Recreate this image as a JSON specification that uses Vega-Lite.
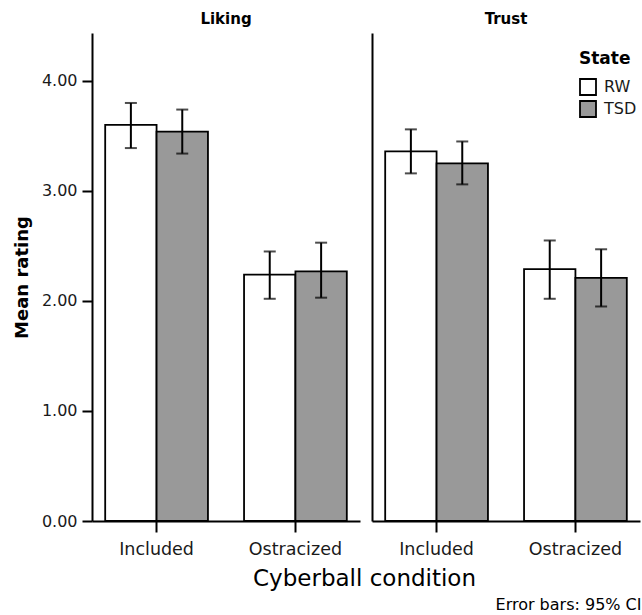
{
  "$schema": "https://vega.github.io/schema/vega-lite/v6.json",
  "padding": {"left": 13, "top": 12, "right": 0, "bottom": 0},
  "bounds": "flush",
  "config": {
    "font": "DejaVu Sans",
    "view": {"stroke": null},
    "concat": {"spacing": 12},
    "axis": {"domainColor": "black", "domainWidth": 2, "tickColor": "black", "tickWidth": 2, "labelColor": "#1a1a1a", "titleColor": "black", "grid": false},
    "title": {"color": "black"}
  },
  "datasets": {
    "d": [
      {"measure": "Liking", "condition": "Included", "state": "RW", "mean": 3.60, "lo": 3.39, "hi": 3.80},
      {"measure": "Liking", "condition": "Included", "state": "TSD", "mean": 3.54, "lo": 3.34, "hi": 3.74},
      {"measure": "Liking", "condition": "Ostracized", "state": "RW", "mean": 2.24, "lo": 2.02, "hi": 2.45},
      {"measure": "Liking", "condition": "Ostracized", "state": "TSD", "mean": 2.27, "lo": 2.03, "hi": 2.53},
      {"measure": "Trust", "condition": "Included", "state": "RW", "mean": 3.36, "lo": 3.16, "hi": 3.56},
      {"measure": "Trust", "condition": "Included", "state": "TSD", "mean": 3.25, "lo": 3.06, "hi": 3.45},
      {"measure": "Trust", "condition": "Ostracized", "state": "RW", "mean": 2.29, "lo": 2.02, "hi": 2.55},
      {"measure": "Trust", "condition": "Ostracized", "state": "TSD", "mean": 2.21, "lo": 1.95, "hi": 2.47}
    ]
  },
  "resolve": {"scale": {"fill": "independent"}, "legend": {"fill": "independent"}},
  "hconcat": [
    {
      "width": 268,
      "height": 488,
      "title": {"text": "Liking", "fontSize": 15, "fontWeight": "bold", "offset": 6},
      "data": {"name": "d"},
      "transform": [{"filter": "datum.measure === 'Liking'"}],
      "encoding": {
        "x": {
          "field": "condition", "type": "nominal",
          "scale": {"paddingInner": 0.26, "paddingOuter": 0.095},
          "axis": {"labelAngle": 0, "labelFontSize": 17.5, "tickSize": 11, "labelPadding": 8,
                   "title": "Cyberball condition", "titleFontSize": 23, "titleFontWeight": "normal",
                   "titleX": 272, "titleY": 57, "titleBaseline": "middle", "titleAlign": "center"}
        },
        "xOffset": {"field": "state", "scale": {"paddingInner": 0, "paddingOuter": 0}}
      },
      "layer": [
        {
          "mark": {"type": "bar", "stroke": "black", "strokeWidth": 1.8},
          "encoding": {
            "y": {"field": "mean", "type": "quantitative",
                  "scale": {"domain": [0, 4.436], "nice": false},
                  "axis": {"values": [0, 1, 2, 3, 4], "format": ".2f", "tickSize": 10, "labelFontSize": 16, "labelPadding": 5,
                           "title": "Mean rating", "titleFontSize": 18, "titleFontWeight": "bold", "titlePadding": 10}},
            "fill": {"field": "state", "type": "nominal", "scale": {"domain": ["RW", "TSD"], "range": ["white", "#999999"]}, "legend": null}
          }
        },
        {
          "mark": {"type": "rule", "color": "black", "strokeWidth": 2},
          "encoding": {"y": {"field": "lo", "type": "quantitative"}, "y2": {"field": "hi"}}
        },
        {
          "mark": {"type": "tick", "color": "black", "size": 12, "thickness": 2},
          "encoding": {"y": {"field": "hi", "type": "quantitative"}}
        },
        {
          "mark": {"type": "tick", "color": "black", "size": 12, "thickness": 2},
          "encoding": {"y": {"field": "lo", "type": "quantitative"}}
        }
      ]
    },
    {
      "width": 268,
      "height": 488,
      "title": {"text": "Trust", "fontSize": 15, "fontWeight": "bold", "offset": 6},
      "data": {"name": "d"},
      "transform": [{"filter": "datum.measure === 'Trust'"}],
      "encoding": {
        "x": {
          "field": "condition", "type": "nominal",
          "scale": {"paddingInner": 0.26, "paddingOuter": 0.095},
          "axis": {"labelAngle": 0, "labelFontSize": 17.5, "tickSize": 11, "labelPadding": 8,
                   "title": "Error bars: 95% CI", "titleFontSize": 16, "titleFontWeight": "normal",
                   "titleX": 269, "titleY": 83, "titleBaseline": "middle", "titleAlign": "right"}
        },
        "xOffset": {"field": "state", "scale": {"paddingInner": 0, "paddingOuter": 0}}
      },
      "layer": [
        {
          "mark": {"type": "bar", "stroke": "black", "strokeWidth": 1.8},
          "encoding": {
            "y": {"field": "mean", "type": "quantitative",
                  "scale": {"domain": [0, 4.436], "nice": false},
                  "axis": {"labels": false, "ticks": false, "title": null}},
            "fill": {"field": "state", "type": "nominal", "scale": {"domain": ["RW", "TSD"], "range": ["white", "#999999"]},
                     "legend": {"orient": "none", "legendX": 207, "legendY": 18, "title": "State",
                                "titleFontSize": 17, "titleFontWeight": "bold", "titleColor": "black", "titlePadding": 10,
                                "labelFontSize": 16, "labelColor": "#1a1a1a", "labelOffset": 7,
                                "symbolType": "square", "symbolSize": 256, "symbolStrokeColor": "black", "symbolStrokeWidth": 1.8,
                                "rowPadding": -2}}
          }
        },
        {
          "mark": {"type": "rule", "color": "black", "strokeWidth": 2},
          "encoding": {"y": {"field": "lo", "type": "quantitative"}, "y2": {"field": "hi"}}
        },
        {
          "mark": {"type": "tick", "color": "black", "size": 12, "thickness": 2},
          "encoding": {"y": {"field": "hi", "type": "quantitative"}}
        },
        {
          "mark": {"type": "tick", "color": "black", "size": 12, "thickness": 2},
          "encoding": {"y": {"field": "lo", "type": "quantitative"}}
        }
      ]
    }
  ]
}
